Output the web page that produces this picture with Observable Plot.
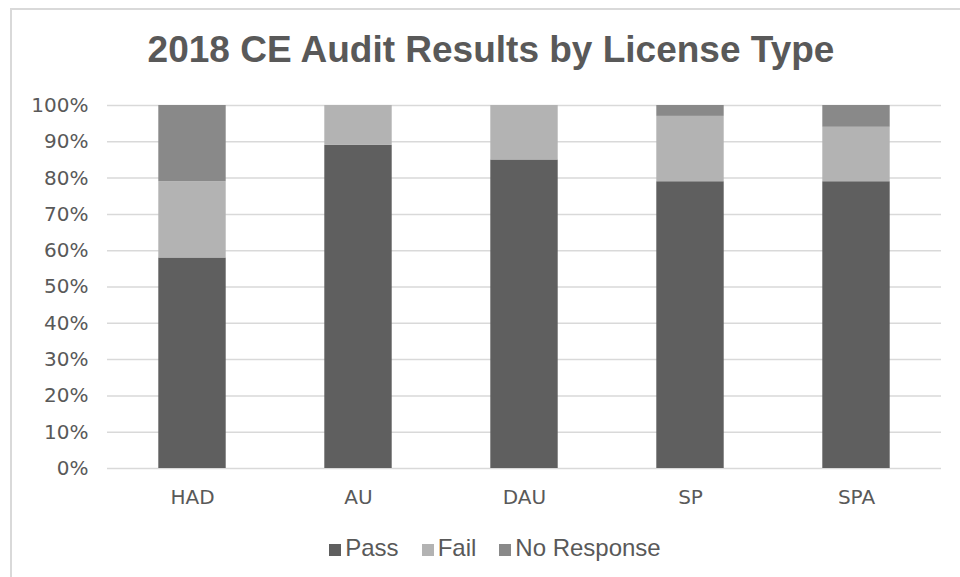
<!DOCTYPE html>
<html>
<head>
<meta charset="utf-8">
<script src="https://cdn.jsdelivr.net/npm/d3@7"></script>
<script src="https://cdn.jsdelivr.net/npm/@observablehq/plot@0.6"></script>
<style>
html, body { margin: 0; padding: 0; background: #fff; overflow: hidden; }
#wrap { position: relative; width: 960px; height: 577px; overflow: hidden; }
#frame { position: absolute; left: 10px; top: 8px; width: 1000px; height: 700px; border: 2px solid #d9d9d9; box-sizing: border-box; pointer-events: none; }
#title { height: 88px; box-sizing: border-box; padding-top: 30.7px; padding-left: 22px; text-align: center;
  font: bold 37px/37px "Liberation Sans", Arial, sans-serif; color: #595959; white-space: nowrap; }
#chart { height: 420px; }
#legend { height: 69px; box-sizing: border-box; padding-top: 27.7px; padding-left: 30px; text-align: center;
  font: 24px/24px "Liberation Sans", Arial, sans-serif; color: #595959; white-space: nowrap; }
.item { display: inline-block; margin: 0 11.5px; }
.sw { display: inline-block; width: 12px; height: 12px; margin-right: 4px; vertical-align: baseline; }
</style>
</head>
<body>
<div id="wrap">
  <div id="title">2018 CE Audit Results by License Type</div>
  <div id="chart"></div>
  <div id="legend"></div>
  <div id="frame"></div>
</div>
<script>
const categories = ["HAD", "AU", "DAU", "SP", "SPA"];
const passPct = [58, 89, 85, 79, 79];
const failPct = [21, 11, 15, 18, 15];
const noResponsePct = [21, 0, 0, 3, 6];
const seriesNames = ["Pass", "Fail", "No Response"];
const seriesColors = ["#5f5f5f", "#b3b3b3", "#898989"];
const yTicks = [0, 10, 20, 30, 40, 50, 60, 70, 80, 90, 100];

const seriesValues = [passPct, failPct, noResponsePct];
const rows = [];
categories.forEach((c, i) => {
  seriesNames.forEach((s, j) => {
    rows.push({category: c, series: s, value: seriesValues[j][i]});
  });
});

const chart = Plot.plot({
  width: 960,
  height: 420,
  marginTop: 17,
  marginBottom: 40,
  marginLeft: 107,
  marginRight: 19,
  style: {fontFamily: "'DejaVu Sans', sans-serif", fontSize: "20px", color: "#595959", background: "white"},
  x: {domain: categories, padding: 0, label: null},
  y: {domain: [0, 100], label: null},
  color: {domain: seriesNames, range: seriesColors},
  marks: [
    Plot.ruleY(yTicks, {stroke: "#d9d9d9", strokeWidth: 1.5}),
    Plot.barY(rows, {x: "category", y: "value", fill: "series", z: "series", order: seriesNames, insetLeft: 49.3, insetRight: 49.3}),
    Plot.axisY({ticks: yTicks, tickSize: 0, tickPadding: 19, tickFormat: d => d + "%", label: null}),
    Plot.axisX({tickSize: 0, tickPadding: 21, label: null})
  ]
});
document.getElementById("chart").appendChild(chart);

const legend = document.getElementById("legend");
seriesNames.forEach((s, i) => {
  const item = document.createElement("span");
  item.className = "item";
  const sw = document.createElement("span");
  sw.className = "sw";
  sw.style.background = seriesColors[i];
  item.appendChild(sw);
  item.appendChild(document.createTextNode(s));
  legend.appendChild(item);
});
</script>
</body>
</html>
